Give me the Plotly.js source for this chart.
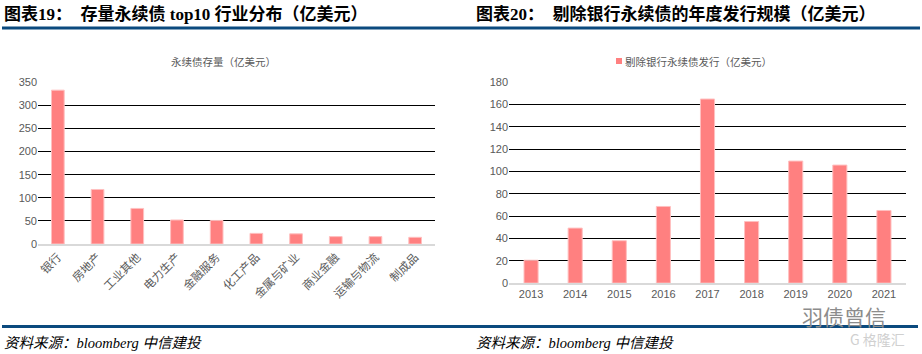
<!DOCTYPE html>
<html>
<head>
<meta charset="utf-8">
<script src="https://cdn.plot.ly/plotly-3.0.1.min.js"></script>
<style>html,body{margin:0;padding:0;background:#fff;}#chart{width:922px;height:354px;}</style>
</head>
<body>
<div id="chart"></div>
<script>
// Chart 19: top10 industries by outstanding perpetual bonds (100m USD)
const industries = ['银行','房地产','工业其他','电力生产','金融服务','化工产品','金属与矿业','商业金融','运输与物流','制成品'];
const stockValues = [333, 118, 77, 52, 51, 23, 22, 16, 16, 14.5];
const stockSeriesName = '永续债存量（亿美元）';

// Chart 20: annual issuance excluding banks (100m USD)
const years = ['2013','2014','2015','2016','2017','2018','2019','2020','2021'];
const issueValues = [20.5, 49.3, 38, 68.7, 165, 55.2, 109.4, 105.8, 65.1];
const issueSeriesName = '剔除银行永续债发行（亿美元）';

const leftYTicks = [0,50,100,150,200,250,300,350];
const rightYTicks = [0,20,40,60,80,100,120,140,160,180];

const W = 922, H = 354;
const px = x => x / W;
const py = y => 1 - y / H;

const barColor = '#ff8080';
const barLine = '#ffc0c0';
const cjk = '"Microsoft YaHei", "Noto Sans CJK SC", sans-serif';
const tickFont = {family: 'Arial, "Liberation Sans", "Noto Sans CJK SC", sans-serif', size: 11, color: '#595959'};

const traces = [
  {type: 'bar', x: industries, y: stockValues, xaxis: 'x', yaxis: 'y', name: stockSeriesName,
   marker: {color: barColor, line: {color: barLine, width: 1}}, showlegend: false, hoverinfo: 'x+y'},
  {type: 'bar', x: years, y: issueValues, xaxis: 'x2', yaxis: 'y2', name: issueSeriesName,
   marker: {color: barColor, line: {color: barLine, width: 1}}, showlegend: false, hoverinfo: 'x+y'}
];

const gridAxis = (ticks, range) => ({
  range: range, tickvals: ticks, ticktext: ticks.map(String), showgrid: true, gridcolor: '#000000', gridwidth: 1,
  zeroline: false, showline: false, ticks: '', tickfont: tickFont, ticklen: 0, fixedrange: true
});

const layout = {
  width: W, height: H,
  margin: {l: 0, r: 0, t: 0, b: 0},
  paper_bgcolor: '#ffffff', plot_bgcolor: 'rgba(0,0,0,0)',
  bargap: 0.68,
  font: {family: cjk, color: '#595959'},
  showlegend: false,
  xaxis: {domain: [px(38), px(435)], anchor: 'y', type: 'category', range: [-0.5, 9.5],
    tickangle: -45, tickfont: {family: cjk, size: 11.5, color: '#595959'}, showline: true, linecolor: '#d9d9d9', linewidth: 2,
    ticks: '', showgrid: false, zeroline: false, fixedrange: true},
  yaxis: Object.assign(gridAxis(leftYTicks, [0, 350]), {domain: [py(244), py(82.3)], anchor: 'x'}),
  xaxis2: {domain: [px(509), px(906)], anchor: 'y2', type: 'category', range: [-0.5, 8.5],
    tickfont: tickFont, showline: true, linecolor: '#d9d9d9', linewidth: 2,
    ticks: '', showgrid: false, zeroline: false, fixedrange: true},
  yaxis2: Object.assign(gridAxis(rightYTicks, [0, 180]), {domain: [py(283.1), py(82.3)], anchor: 'x2'}),
  shapes: [
    {type: 'rect', xref: 'paper', yref: 'paper', x0: px(2), x1: px(920), y0: py(29.5), y1: py(26.5), fillcolor: '#0b4a7e', line: {width: 0}},
    {type: 'rect', xref: 'paper', yref: 'paper', x0: px(2), x1: px(918), y0: py(328), y1: py(325), fillcolor: '#0b4a7e', line: {width: 0}},
    // legend swatch for chart 20
    {type: 'rect', xref: 'paper', yref: 'paper', x0: px(616), x1: px(622), y0: py(64), y1: py(58), fillcolor: barColor, line: {width: 0}}
  ],
  annotations: [
    {xref: 'paper', yref: 'paper', x: px(2), y: py(14), xanchor: 'left', yanchor: 'middle', showarrow: false,
     text: '<b>图表19：  存量永续债 top10 行业分布（亿美元）</b>', font: {family: '"Liberation Serif", "Noto Sans CJK SC", serif', size: 17, color: '#000'}},
    {xref: 'paper', yref: 'paper', x: px(474), y: py(14), xanchor: 'left', yanchor: 'middle', showarrow: false,
     text: '<b>图表20：  剔除银行永续债的年度发行规模（亿美元）</b>', font: {family: '"Liberation Serif", "Noto Sans CJK SC", serif', size: 17, color: '#000'}},
    {xref: 'paper', yref: 'paper', x: px(223), y: py(61), xanchor: 'center', yanchor: 'middle', showarrow: false,
     text: stockSeriesName, font: {family: cjk, size: 10.5, color: '#595959'}},
    {xref: 'paper', yref: 'paper', x: px(623), y: py(61), xanchor: 'left', yanchor: 'middle', showarrow: false,
     text: issueSeriesName, font: {family: cjk, size: 10.5, color: '#595959'}},
    {xref: 'paper', yref: 'paper', x: px(2), y: py(343), xanchor: 'left', yanchor: 'middle', showarrow: false,
     text: '<i>资料来源：bloomberg 中信建投</i>', font: {family: '"Liberation Serif", "Noto Sans CJK SC", serif', size: 14.5, color: '#000'}},
    {xref: 'paper', yref: 'paper', x: px(474), y: py(343), xanchor: 'left', yanchor: 'middle', showarrow: false,
     text: '<i>资料来源：bloomberg 中信建投</i>', font: {family: '"Liberation Serif", "Noto Sans CJK SC", serif', size: 14.5, color: '#000'}},
    {xref: 'paper', yref: 'paper', x: px(800), y: py(316), xanchor: 'left', yanchor: 'middle', showarrow: false,
     text: '羽债曾信', font: {family: cjk, size: 21, color: '#8c8c8c'}},
    {xref: 'paper', yref: 'paper', x: px(848), y: py(339), xanchor: 'left', yanchor: 'middle', showarrow: false,
     text: 'G 格隆汇', font: {family: cjk, size: 14, color: '#d0d0d0'}}
  ]
};

Plotly.newPlot('chart', traces, layout, {displayModeBar: false, staticPlot: true});
</script>
</body>
</html>
